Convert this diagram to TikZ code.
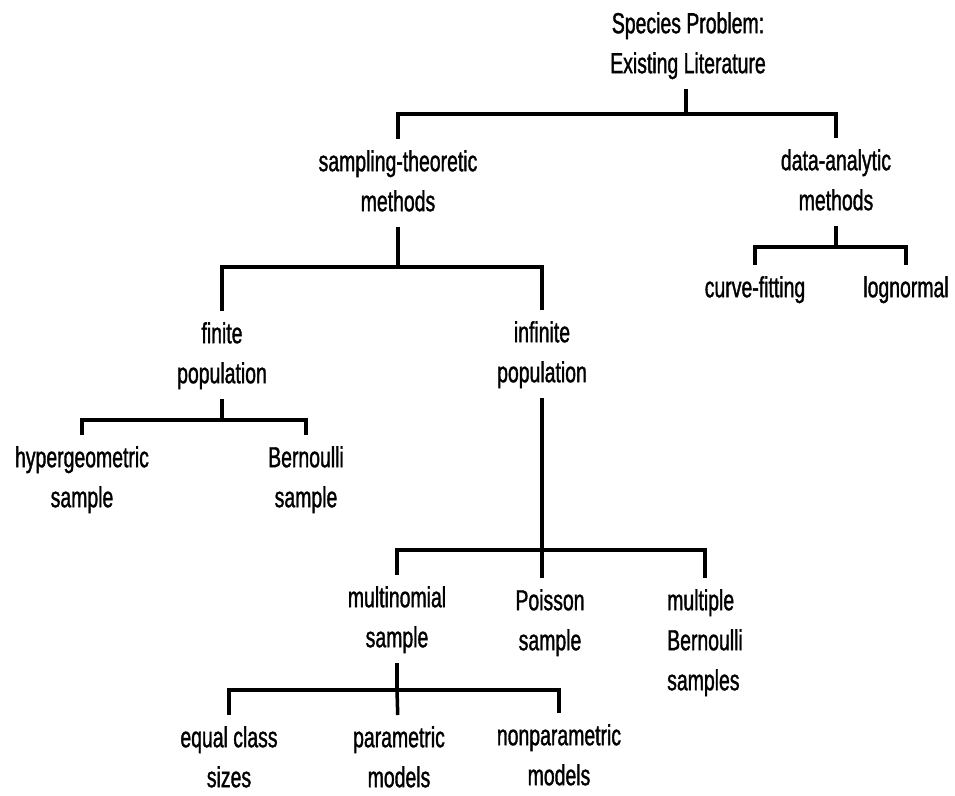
\documentclass[tikz,border=0pt]{standalone}
\usepackage{fontspec}
\setmainfont{Liberation Sans}[FakeStretch=0.67,FakeBold=1.2]
\tikzset{
  lbl/.style={anchor=north, align=center, inner xsep=0pt, inner ysep=4pt,
              font=\fontsize{29}{40}\selectfont, text=black},
  conn/.style={draw=black, line width=3.5pt, line join=miter}
}
\begin{document}
\begin{tikzpicture}[x=1pt,y=-1pt]
\useasboundingbox (0,0) rectangle (955,795);
% nodes (north = first baseline - 32)
\node[lbl] (root) at (688,1)   {\strut Species Problem:\\\strut Existing Literature};
\node[lbl] (st)   at (398,139) {\strut sampling-theoretic\\\strut methods};
\node[lbl] (da)   at (836,138) {\strut data-analytic\\\strut methods};
\node[lbl] (cf)   at (755,265) {\strut curve-fitting};
\node[lbl] (ln)   at (906,265) {\strut lognormal};
\node[lbl] (fin)  at (222,311) {\strut finite\\\strut population};
\node[lbl] (inf)  at (542,310) {\strut infinite\\\strut population};
\node[lbl] (hyp)  at (82,435)  {\strut hypergeometric\\\strut sample};
\node[lbl] (bern) at (306,435) {\strut Bernoulli\\\strut sample};
\node[lbl] (mn)   at (397,575) {\strut multinomial\\\strut sample};
\node[lbl] (po)   at (550,578) {\strut Poisson\\\strut sample};
\node[lbl,align=left] (mult) at (705,578) {\strut multiple\\\strut Bernoulli\\\strut samples};
\node[lbl] (eq)   at (229,715) {\strut equal class\\\strut sizes};
\node[lbl] (pm)   at (399,715) {\strut parametric\\\strut models};
\node[lbl] (np)   at (559,713) {\strut nonparametric\\\strut models};
% junctions
\coordinate (j0) at (686,114);
\coordinate (j1) at (398,267);
\coordinate (j2) at (836,247);
\coordinate (j3) at (222,420);
\coordinate (j4) at (542,550);
\coordinate (j5) at (397,690);
% connectors
\draw[conn] (root.south -| j0) -- (j0);
\draw[conn] (st) |- (j0) -| (da);
\draw[conn] (st) -- (j1);
\draw[conn] (fin) |- (j1) -| (inf);
\draw[conn] (da) -- (j2);
\draw[conn] (cf) |- (j2) -| (ln);
\draw[conn] (fin) -- (j3);
\draw[conn] (hyp) |- (j3) -| (bern);
\draw[conn] (inf) -- (j4);
\draw[conn] (mn) |- (j4) -| (mult.north);
\draw[conn] (j4) -- (j4 |- po.north);
\draw[conn] (mn) -- (j5);
\draw[conn] (eq) |- (j5) -| (np);
\draw[conn] (j5) -- (pm);
\end{tikzpicture}
\end{document}
